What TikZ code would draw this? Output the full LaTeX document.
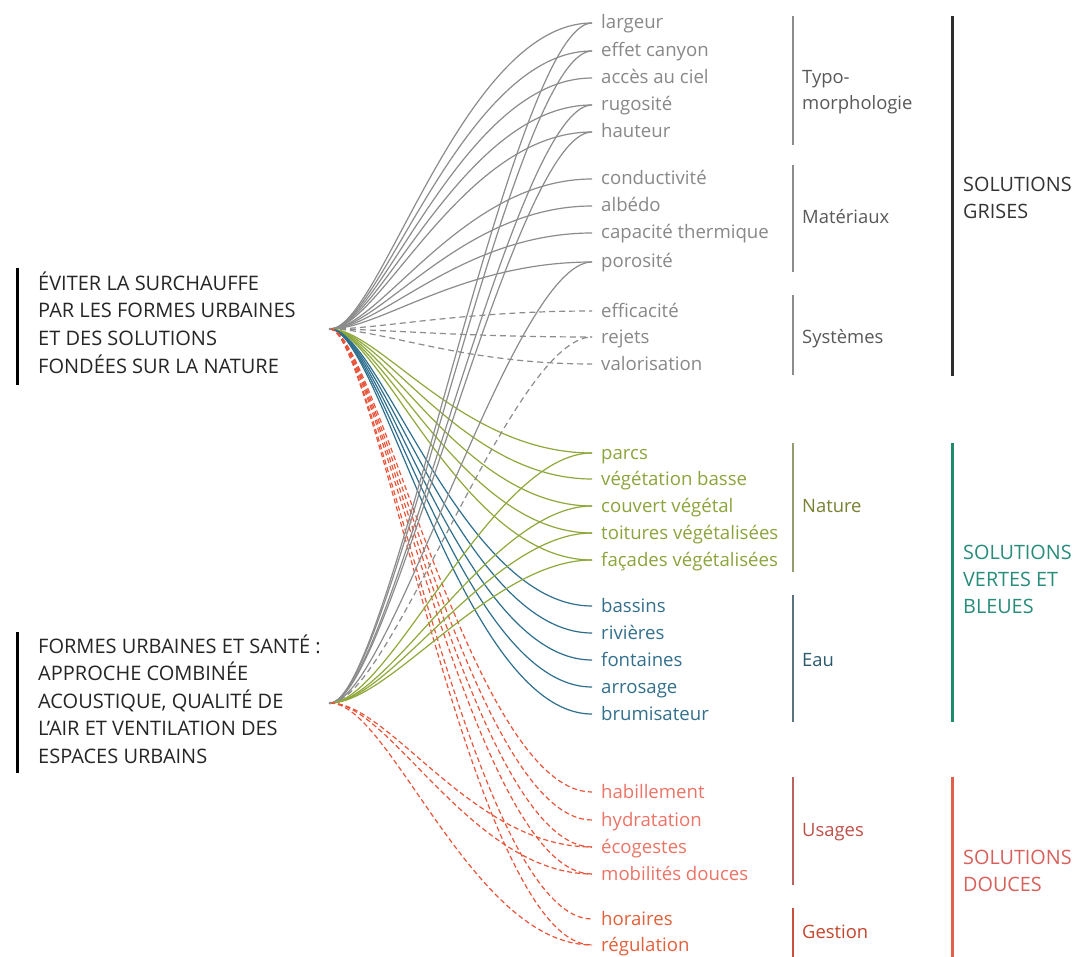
\documentclass[tikz,border=0pt]{standalone}
\usepackage{fontspec}
\setmainfont{Open Sans}
\begin{document}
\begin{tikzpicture}[x=1pt,y=-1pt,
  lbl/.style={anchor=base west,inner sep=0pt,font=\fontsize{18.6}{22}\selectfont},
  cat/.style={anchor=base west,inner sep=0pt,align=left,font=\fontsize{18.4}{26}\selectfont},
  big/.style={anchor=base west,inner sep=0pt,align=left,font=\fontsize{19.8}{27}\selectfont},
  head/.style={anchor=base west,inner sep=0pt,align=left,font=\fontsize{20}{27.5}\selectfont,text=black!85},
  con/.style={line width=1.2pt},
  gcon/.style={con,draw=cgray},
  gdash/.style={con,draw=cgray,dash pattern=on 6pt off 4pt},
  vcon/.style={con,draw=cgreen},
  bcon/.style={con,draw=cblue},
  rcon/.style={con,draw=cred,dash pattern=on 5pt off 3pt},
  catbar/.style={line width=1.8pt},
  bigbar/.style={line width=3pt}
]
\definecolor{cgray}{HTML}{8C8C8C}
\definecolor{tgray}{HTML}{888888}
\definecolor{cgreen}{HTML}{8FA83A}
\definecolor{tgreen}{HTML}{8CA43C}
\definecolor{cblue}{HTML}{2E6F8E}
\definecolor{tblue}{HTML}{33708C}
\definecolor{cred}{HTML}{E8553A}
\definecolor{tred}{HTML}{EC7466}
\definecolor{tred2}{HTML}{E2603A}
\useasboundingbox[fill=white] (0,0) rectangle (1078,957);

% hubs
\coordinate (h1) at (330,329);
\coordinate (h2) at (330,703);

% left headings (y = baseline of the last line)
\draw[bigbar,black] (17,268) -- (17,385);
\node[head] (t1) at (38,373) {ÉVITER LA SURCHAUFFE\\PAR LES FORMES URBAINES\\ET DES SOLUTIONS\\FONDÉES SUR LA NATURE};
\draw[bigbar,black] (17,632) -- (17,773);
\node[head] (t2) at (38,763) {FORMES URBAINES ET SANTÉ :\\APPROCHE COMBINÉE\\ACOUSTIQUE, QUALITÉ DE\\L’AIR ET VENTILATION DES\\ESPACES URBAINS};

% labels
\foreach \n/\y/\t/\c in {
  largeur/23/largeur/tgray, canyon/51/effet canyon/tgray, ciel/78/accès au ciel/tgray,
  rugo/105/rugosité/tgray, haut/132/hauteur/tgray,
  cond/179/conductivité/tgray, albedo/206/albédo/tgray, capa/233/capacité thermique/tgray, poro/262/porosité/tgray,
  effi/311/efficacité/tgray, rejets/337/rejets/tgray, valo/364/valorisation/tgray,
  parcs/453/parcs/tgreen, vegb/479/végétation basse/tgreen, couv/506/couvert végétal/tgreen,
  toit/533/toitures végétalisées/tgreen, fac/560/façades végétalisées/tgreen,
  bass/606/bassins/tblue, riv/633/rivières/tblue, font/660/fontaines/tblue, arro/687/arrosage/tblue, brum/714/brumisateur/tblue,
  habil/792/habillement/tred, hydra/820/hydratation/tred, ecog/847/écogestes/tred, mobi/874/mobilités douces/tred,
  hora/919/horaires/tred2, regu/945/régulation/tred2}
  {\node[lbl,text=\c] (\n) at (601,\y+6) {\t};
   \coordinate (e-\n) at (592,\y);}

% connectors from hub 1
\foreach \n in {largeur,canyon,ciel,rugo,haut,cond,albedo,capa,poro}
  {\draw[gcon] (h1) .. controls +(50,0) and +(-130,0) .. (e-\n);}
\foreach \n in {effi,rejets,valo}
  {\draw[gdash] (h1) .. controls +(50,0) and +(-130,0) .. (e-\n);}
\foreach \n in {parcs,vegb,couv,toit,fac}
  {\draw[vcon] (h1) .. controls +(50,0) and +(-130,0) .. (e-\n);}
\foreach \n in {bass,riv,font,arro,brum}
  {\draw[bcon] (h1) .. controls +(50,0) and +(-130,0) .. (e-\n);}
\foreach \n in {habil,hydra,ecog,mobi,hora,regu}
  {\draw[rcon] (h1) .. controls +(45,0) and +(-120,0) .. (e-\n);}

% connectors from hub 2
\foreach \n in {largeur,canyon,rugo,haut,poro}
  {\draw[gcon] (h2) .. controls +(60,0) and +(-80,0) .. (e-\n);}
\draw[gdash] (h2) .. controls +(60,0) and +(-80,0) .. (e-rejets);
\foreach \n in {parcs,couv,toit,fac}
  {\draw[vcon] (h2) .. controls +(60,0) and +(-100,0) .. (e-\n);}
\foreach \n in {ecog,mobi,regu}
  {\draw[rcon] (h2) .. controls +(60,0) and +(-120,0) .. (e-\n);}

\fill[cgray] (h1) circle (1.5);
\fill[cgray] (h2) circle (1.5);

% category bars and labels
\draw[catbar,draw=cgray] (793,16) -- (793,145);
\node[cat,text=black!65] (typo) at (802,110) {Typo-\\morphologie};
\draw[catbar,draw=cgray] (793,165) -- (793,272);
\node[cat,text=black!65] (mat) at (802,224) {Matériaux};
\draw[catbar,draw=cgray] (793,295) -- (793,375);
\node[cat,text=black!65] (sys) at (802,343) {Systèmes};
\draw[catbar,draw={rgb,255:red,150;green,155;blue,110}] (793,443) -- (793,572);
\node[cat,text={rgb,255:red,122;green,128;blue,50}] (nat) at (802,512) {Nature};
\draw[catbar,draw={rgb,255:red,90;green,115;blue,125}] (793,595) -- (793,722);
\node[cat,text={rgb,255:red,45;green,90;blue,110}] (eau) at (802,666) {Eau};
\draw[catbar,draw={rgb,255:red,185;green,100;blue,95}] (793,777) -- (793,885);
\node[cat,text={rgb,255:red,190;green,80;blue,72}] (usa) at (802,836) {Usages};
\draw[catbar,draw={rgb,255:red,200;green,80;blue,60}] (793,908) -- (793,957);
\node[cat,text={rgb,255:red,195;green,70;blue,45}] (ges) at (802,938) {Gestion};

% big bars and labels (y = baseline of the last line)
\draw[bigbar,draw={rgb,255:red,45;green,45;blue,45}] (952,16) -- (952,376);
\node[big,text=black!80] (gris) at (963,219) {SOLUTIONS\\GRISES};
\draw[bigbar,draw={rgb,255:red,30;green,138;blue,110}] (952,443) -- (952,722);
\node[big,text={rgb,255:red,40;green,140;blue,122}] (vert) at (963,613) {SOLUTIONS\\VERTES ET\\BLEUES};
\draw[bigbar,draw={rgb,255:red,225;green,95;blue,75}] (952,777) -- (952,957);
\node[big,text={rgb,255:red,216;green,96;blue,90}] (douc) at (963,891) {SOLUTIONS\\DOUCES};
\end{tikzpicture}
\end{document}
